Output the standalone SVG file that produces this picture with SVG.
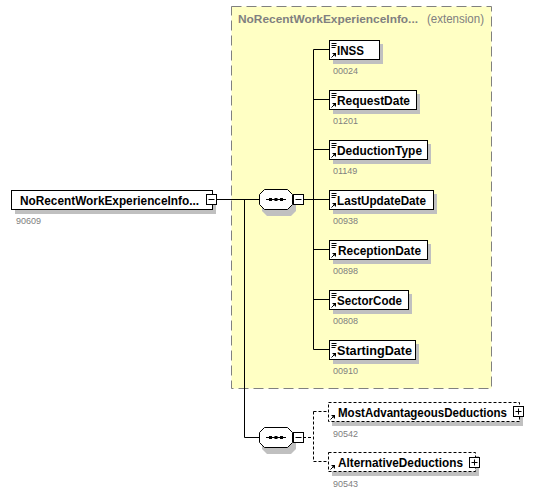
<svg xmlns="http://www.w3.org/2000/svg" width="551" height="494" viewBox="0 0 551 494">
<defs>
<style>
.nm{font-family:"Liberation Sans",Arial,sans-serif;font-weight:bold;font-size:13px;fill:#000}
.id{font-family:"Liberation Sans",Arial,sans-serif;font-size:9px;fill:#808080}
.box{fill:#fff;stroke:#000;stroke-width:1}
.dbox{fill:#fff;stroke:#000;stroke-width:1;stroke-dasharray:3 2}
.sh{fill:#c0c0c0}
.ln{stroke:#000;stroke-width:1;fill:none}
.dl{stroke:#000;stroke-width:1;fill:none;stroke-dasharray:3 2}
.ic{stroke:#000;stroke-width:1;fill:none}
</style>
<g id="simpleIcon">
<path class="ic" d="M2.5 3.5h5M2.5 5.5h5M2.5 7.5h4"/>
<path d="M2.5 17.5l4-4" class="ic"/><path d="M3 13l4 0 0 4z" fill="#000"/>
</g>
<g id="refIcon">
<path d="M2.5 17.5l4-4" class="ic"/><path d="M3 13l4 0 0 4z" fill="#000"/>
</g>
<g id="minusBox"><rect x="0.5" y="0.5" width="10" height="10" fill="#fff" stroke="#000"/><path d="M2.5 5.5h6" class="ic"/></g>
<g id="plusBox"><rect x="0.5" y="0.5" width="10" height="10" fill="#fff" stroke="#000"/><path d="M2.5 5.5h6M5.5 2.5v6" class="ic"/></g>
<g id="seq">
<path d="M5 4 L29 4 L34 9 L34 19 L29 24 L5 24 L0 19 L0 9 Z" fill="#c0c0c0" transform="translate(3,3)"/>
<path d="M5.5 0.5 L28.5 0.5 L33.5 5.5 L33.5 15.5 L28.5 20.5 L5.5 20.5 L0.5 15.5 L0.5 5.5 Z" fill="#fff" stroke="#000"/>
<path class="ic" d="M7 10.5h20"/>
<rect x="10" y="9" width="3" height="3" fill="#000"/><rect x="15.5" y="9" width="3" height="3" fill="#000"/><rect x="21" y="9" width="3" height="3" fill="#000"/>
</g>
</defs>

<g id="extension">
<rect x="231.5" y="6.5" width="260" height="382" fill="#ffffc4" stroke="#808080" stroke-dasharray="10 5"/>
<text x="238" y="23" font-family="Liberation Sans,Arial,sans-serif" font-weight="bold" font-size="11.5" fill="#808080" textLength="180" lengthAdjust="spacingAndGlyphs">NoRecentWorkExperienceInfo...</text>
<text x="427" y="23" font-family="Liberation Sans,Arial,sans-serif" font-size="12" fill="#808080" textLength="57" lengthAdjust="spacingAndGlyphs">(extension)</text>
</g>

<g id="connectors">
<path class="ln" d="M217 199.5H259"/>
<path class="ln" d="M244.5 199.5V437.5H259"/>
<path class="ln" d="M303 199.5H313.5"/>
<path class="ln" d="M313.5 49.5V349.5"/>
<path class="ln" d="M313.5 49.5H329M313.5 99.5H329M313.5 149.5H329M313.5 199.5H329M313.5 249.5H329M313.5 299.5H329M313.5 349.5H329"/>
<path class="dl" d="M303 437.5H313.5M313.5 411.5V461.5M313.5 411.5H328M313.5 461.5H328"/>
</g>

<g id="root">
<rect class="sh" x="15" y="194" width="201" height="20"/>
<rect class="box" x="11.5" y="190.5" width="201" height="19"/>
<text class="nm" x="20" y="205" textLength="179" lengthAdjust="spacingAndGlyphs">NoRecentWorkExperienceInfo...</text>
<use href="#minusBox" x="206" y="194"/>
<text class="id" x="16" y="224">90609</text>
</g>

<g id="seq1"><use href="#seq" x="259" y="189"/><use href="#minusBox" x="293" y="194"/></g>
<g id="seq2"><use href="#seq" x="259" y="427"/><use href="#minusBox" x="293" y="432"/></g>

<g id="INSS">
<rect class="sh" x="333" y="44" width="50" height="20"/>
<rect class="box" x="329.5" y="40.5" width="50" height="19"/>
<use href="#simpleIcon" x="329" y="40"/>
<text class="nm" x="337" y="55" textLength="27" lengthAdjust="spacingAndGlyphs">INSS</text>
<text class="id" x="333" y="74">00024</text>
</g>
<g id="RequestDate">
<rect class="sh" x="333" y="94" width="87" height="20"/>
<rect class="box" x="329.5" y="90.5" width="87" height="19"/>
<use href="#simpleIcon" x="329" y="90"/>
<text class="nm" x="337" y="105" textLength="73" lengthAdjust="spacingAndGlyphs">RequestDate</text>
<text class="id" x="333" y="124">01201</text>
</g>
<g id="DeductionType">
<rect class="sh" x="333" y="144" width="98" height="20"/>
<rect class="box" x="329.5" y="140.5" width="98" height="19"/>
<use href="#simpleIcon" x="329" y="140"/>
<text class="nm" x="337" y="155" textLength="85" lengthAdjust="spacingAndGlyphs">DeductionType</text>
<text class="id" x="333" y="174">01149</text>
</g>
<g id="LastUpdateDate">
<rect class="sh" x="333" y="194" width="104" height="20"/>
<rect class="box" x="329.5" y="190.5" width="104" height="19"/>
<use href="#simpleIcon" x="329" y="190"/>
<text class="nm" x="337" y="205" textLength="89" lengthAdjust="spacingAndGlyphs">LastUpdateDate</text>
<text class="id" x="333" y="224">00938</text>
</g>
<g id="ReceptionDate">
<rect class="sh" x="333" y="244" width="98" height="20"/>
<rect class="box" x="329.5" y="240.5" width="98" height="19"/>
<use href="#simpleIcon" x="329" y="240"/>
<text class="nm" x="338" y="255" textLength="83" lengthAdjust="spacingAndGlyphs">ReceptionDate</text>
<text class="id" x="333" y="274">00898</text>
</g>
<g id="SectorCode">
<rect class="sh" x="333" y="294" width="79" height="20"/>
<rect class="box" x="329.5" y="290.5" width="79" height="19"/>
<use href="#simpleIcon" x="329" y="290"/>
<text class="nm" x="337" y="305" textLength="65" lengthAdjust="spacingAndGlyphs">SectorCode</text>
<text class="id" x="333" y="324">00808</text>
</g>
<g id="StartingDate">
<rect class="sh" x="333" y="344" width="86" height="20"/>
<rect class="box" x="329.5" y="340.5" width="86" height="19"/>
<use href="#simpleIcon" x="329" y="340"/>
<text class="nm" x="337" y="355" textLength="75" lengthAdjust="spacingAndGlyphs">StartingDate</text>
<text class="id" x="333" y="374">00910</text>
</g>

<g id="MostAdvantageousDeductions">
<rect class="sh" x="332" y="406" width="191" height="20"/>
<rect class="dbox" x="328.5" y="402.5" width="191" height="19"/>
<use href="#refIcon" x="328" y="402"/>
<text class="nm" x="338" y="417" textLength="169" lengthAdjust="spacingAndGlyphs">MostAdvantageousDeductions</text>
<use href="#plusBox" x="513" y="406"/>
<text class="id" x="333" y="437">90542</text>
</g>
<g id="AlternativeDeductions">
<rect class="sh" x="332" y="456" width="147" height="20"/>
<rect class="dbox" x="328.5" y="452.5" width="147" height="19"/>
<use href="#refIcon" x="328" y="452"/>
<text class="nm" x="338" y="467" textLength="125" lengthAdjust="spacingAndGlyphs">AlternativeDeductions</text>
<use href="#plusBox" x="469" y="457"/>
<text class="id" x="333" y="487">90543</text>
</g>
</svg>
